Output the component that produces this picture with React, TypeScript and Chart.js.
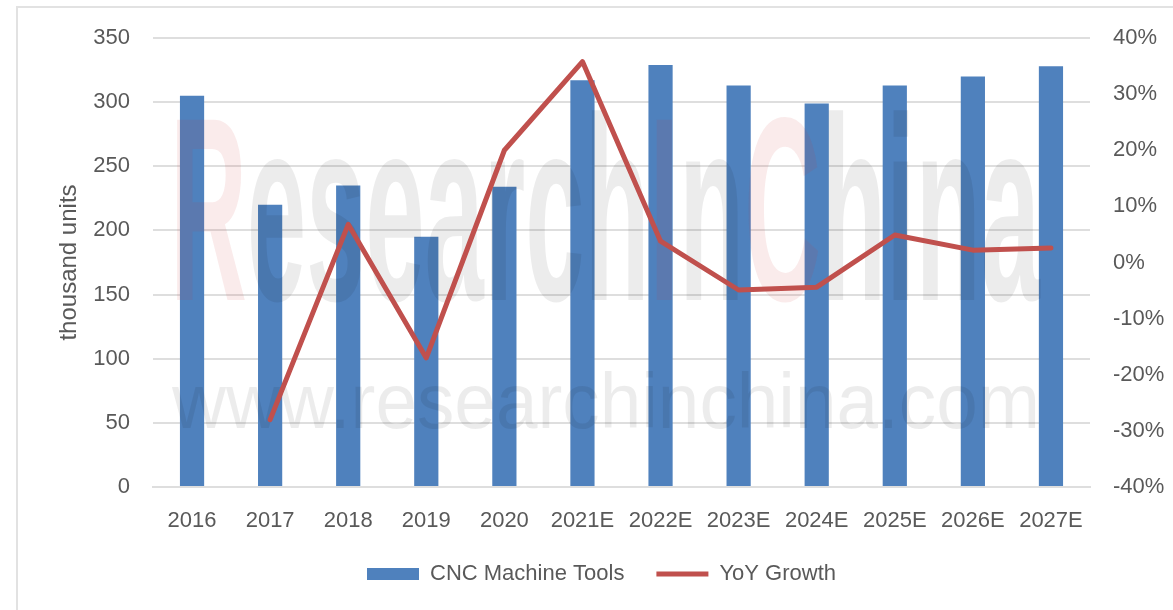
import React, { useEffect, useRef } from 'react';
import { Chart, registerables } from 'chart.js';

Chart.register(...registerables);

// ---- data ----
const categories = ['2016', '2017', '2018', '2019', '2020', '2021E', '2022E', '2023E', '2024E', '2025E', '2026E', '2027E'];
const cncMachineTools = [305, 220, 235, 195, 234, 317, 329, 313, 299, 313, 320, 328];
const yoyGrowth = [null, -28, 6.8, -17, 20, 35.8, 3.8, -4.9, -4.4, 4.9, 2.2, 2.6];
const unitsAxis = [0, 350, 50]; // min, max, step
const growthAxis = [-40, 40, 10]; // min, max, step
const watermarkWord = [
  ['R', 'red'], ['esearch', 'gray'], ['I', 'red'], ['n', 'gray'], ['C', 'red'], ['hina', 'gray'],
];
const watermarkUrl = 'www.researchinchina.com';

const FONT = '"Liberation Sans", Arial, sans-serif';
const TEXT = '#595959';
const GRID = '#dedede';
const PAD_LEFT = 30;

const watermarkPlugin = {
  id: 'watermark',
  afterDatasetDraw(chart: any, args: any) {
    if (args.index !== 0) return;
    const ctx = chart.ctx;
    ctx.save();
    const size = 262;
    ctx.font = `bold ${size}px ${FONT}`;
    const full = watermarkWord.map((p) => p[0]).join('');
    const w = ctx.measureText(full).width;
    const left = 170;
    const right = 1040;
    const sx = (right - left) / w;
    ctx.translate(left, 300);
    ctx.scale(sx, 1);
    ctx.textBaseline = 'alphabetic';
    ctx.textAlign = 'left';
    let x = 0;
    for (const [t, c] of watermarkWord) {
      ctx.fillStyle = c === 'red' ? 'rgba(210,60,60,0.10)' : 'rgba(0,0,0,0.075)';
      ctx.fillText(t, x, 0);
      x += ctx.measureText(t).width;
    }
    ctx.restore();
    ctx.save();
    const us = 77;
    ctx.font = `${us}px ${FONT}`;
    const uw = ctx.measureText(watermarkUrl).width;
    const usx = (1040 - 172) / uw;
    ctx.translate(172, 428);
    ctx.scale(usx, 1);
    ctx.fillStyle = 'rgba(0,0,0,0.075)';
    ctx.textBaseline = 'alphabetic';
    ctx.textAlign = 'left';
    ctx.fillText(watermarkUrl, 0, 0);
    ctx.restore();
  },
};

export default function App() {
  const ref = useRef<HTMLCanvasElement | null>(null);

  useEffect(() => {
    if (!ref.current) return;
    const chart = new Chart(ref.current, {
      type: 'bar',
      data: {
        labels: categories,
        datasets: [
          {
            type: 'bar',
            label: 'CNC Machine Tools',
            data: cncMachineTools,
            yAxisID: 'y',
            order: 1,
            backgroundColor: '#4f81bd',
            borderWidth: 0,
            categoryPercentage: 1,
            barPercentage: 0.31,
            pointStyle: 'rect',
          } as any,
          {
            type: 'line',
            label: 'YoY Growth',
            data: yoyGrowth,
            yAxisID: 'y1',
            order: 0,
            borderColor: '#c0504d',
            backgroundColor: '#c0504d',
            borderWidth: 5,
            borderCapStyle: 'round',
            borderJoinStyle: 'round',
            pointRadius: 0,
            pointHoverRadius: 0,
            tension: 0,
            spanGaps: false,
            pointStyle: 'line',
          } as any,
        ],
      },
      options: {
        animation: false,
        responsive: false,
        maintainAspectRatio: false,
        layout: { padding: { top: 38, left: PAD_LEFT, right: 0, bottom: 15 } },
        plugins: {
          legend: {
            position: 'bottom',
            labels: {
              usePointStyle: true,
              pointStyleWidth: 52,
              boxHeight: 12,
              padding: 32,
              color: TEXT,
              font: { family: FONT, size: 22 },
              sort: (a: any, b: any) => a.datasetIndex - b.datasetIndex,
            },
          },
          tooltip: { enabled: false },
          title: { display: false },
        },
        scales: {
          x: {
            grid: { display: false },
            border: { display: true, color: GRID, width: 2 },
            ticks: { color: TEXT, font: { family: FONT, size: 22 }, padding: 13, maxRotation: 0 },
            afterFit: (s: any) => { s.height = 44; },
          },
          y: {
            position: 'left',
            min: unitsAxis[0],
            max: unitsAxis[1],
            ticks: { stepSize: unitsAxis[2], color: TEXT, font: { family: FONT, size: 22 }, padding: 23 },
            grid: { color: GRID, lineWidth: 2, drawTicks: false },
            border: { display: false },
            title: {
              display: true,
              text: 'thousand units',
              color: TEXT,
              font: { family: FONT, size: 24 },
              padding: { top: 55 - PAD_LEFT, bottom: 0 },
            },
            afterFit: (s: any) => { s.width = 153 - PAD_LEFT; },
          },
          y1: {
            position: 'right',
            min: growthAxis[0],
            max: growthAxis[1],
            ticks: {
              stepSize: growthAxis[2],
              color: TEXT,
              font: { family: FONT, size: 22 },
              padding: 23,
              callback: (v: any) => `${v}%`,
            },
            grid: { display: false, drawTicks: false },
            border: { display: false },
            afterFit: (s: any) => { s.width = 83; },
          },
        },
      },
      plugins: [watermarkPlugin],
    } as any);
    return () => chart.destroy();
  }, []);

  return (
    <div style={{ position: 'fixed', left: 0, top: 0, width: 1173, height: 610, background: '#fff', overflow: 'hidden' }}>
      <div style={{ position: 'absolute', left: 16, top: 6, width: 1300, height: 700, borderLeft: '2px solid #e2e2e2', borderTop: '2px solid #e2e2e2' }} />
      <canvas ref={ref} width={1173} height={610} style={{ position: 'absolute', left: 0, top: 0, width: 1173, height: 610 }} />
    </div>
  );
}
